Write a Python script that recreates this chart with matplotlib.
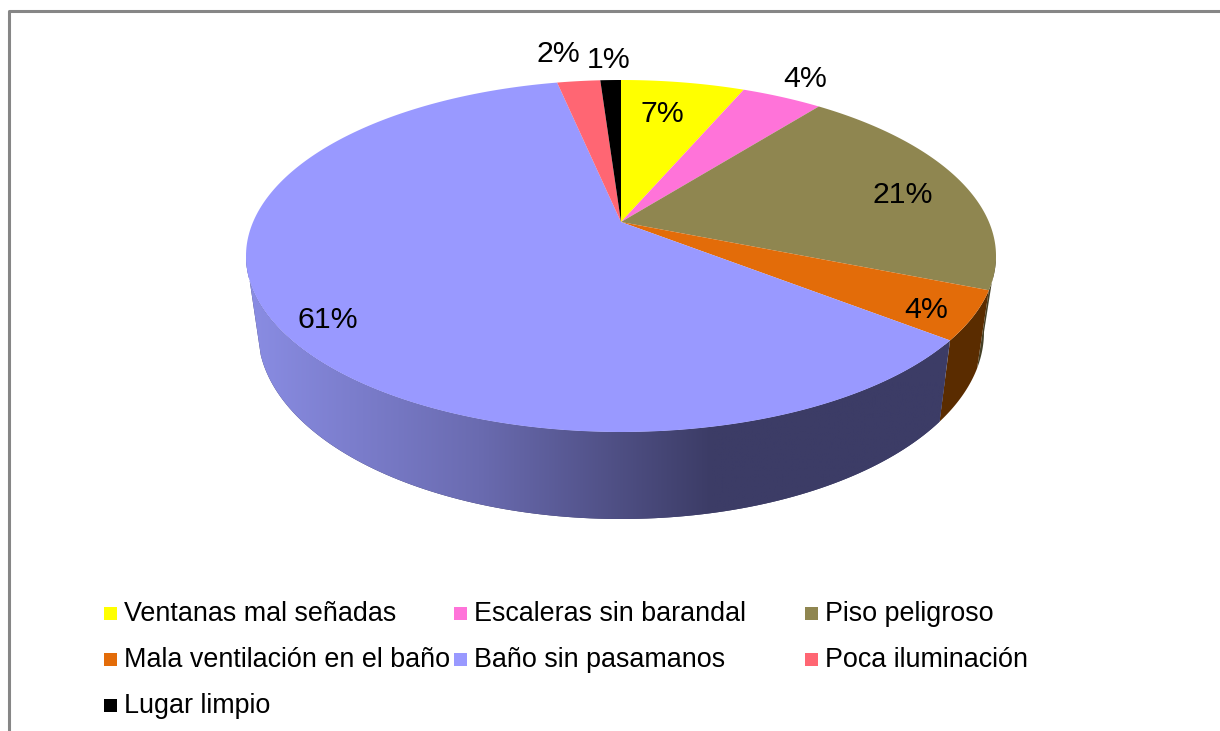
#!/usr/bin/env python3
"""Redraw the 3D style pie chart with its legend."""

import numpy as np
import matplotlib
matplotlib.use('Agg')
import matplotlib.pyplot as plt
from matplotlib.colors import LinearSegmentedColormap
from matplotlib.patches import Polygon, Rectangle

plt.rcParams['font.family'] = ['Liberation Sans', 'DejaVu Sans']

categories = ['Ventanas mal señadas', 'Escaleras sin barandal', 'Piso peligroso',
              'Mala ventilación en el baño', 'Baño sin pasamanos',
              'Poca iluminación', 'Lugar limpio']
values = [6.6, 4.3, 20.6, 4.4, 60.7, 2.3, 1.1]
pct_labels = ['7%', '4%', '21%', '4%', '61%', '2%', '1%']
top_colors = ['#ffff00', '#ff73d9', '#8f8650', '#e36c09', '#9999ff', '#ff6673', '#000000']
side_colors = ['#808000', '#80396c', '#454026', '#5a2c00', '#3c3c66', '#803339', '#000000']
label_pos = [(662, 114), (805, 79), (903, 195), (926, 310), (328, 320), (558, 54), (609, 60)]
legend_pos = [(104, 613), (454, 613), (805, 613), (104, 659), (454, 659), (805, 659), (104, 705)]

# rim geometry, in image pixels
CX = 621
TOP_CY, TOP_A, TOP_B = 256, 375, 176
BOT_CY, BOT_A, BOT_B = 332, 363, 187
APEX = (621, 222)
PERSPECTIVE = 0.8
LEFT_TANGENT = np.radians(263)


def rim_angle(theta):
    # true pie angle to angle on the tilted ellipse
    return 2 * np.arctan2(PERSPECTIVE * np.sin(theta / 2), np.cos(theta / 2))


def top_rim(phi):
    return np.column_stack([CX + TOP_A * np.sin(phi), TOP_CY - TOP_B * np.cos(phi)])


def bottom_rim(phi):
    return np.column_stack([CX + BOT_A * np.sin(phi), BOT_CY - BOT_B * np.cos(phi)])


def main():
    fig = plt.figure(figsize=(12.2, 7.31), dpi=100)
    ax = fig.add_axes([0, 0, 1, 1])
    ax.set_xlim(0, 1220)
    ax.set_ylim(731, 0)
    ax.axis('off')

    # chart frame, cut by the image edges
    ax.plot([9, 9, 1220], [731, 11, 11], color='#868686', lw=2.2, solid_capstyle='butt')

    edges = np.cumsum([0] + values) / sum(values) * 2 * np.pi
    shade = LinearSegmentedColormap.from_list('shade', ['#8a8de4', '#6a6bb0', '#3c3c66', '#3c3c66'])

    # side wall first, only the part that faces the viewer
    for i in range(len(values)):
        lo = max(rim_angle(edges[i]) % (2 * np.pi), np.pi / 2)
        hi = rim_angle(edges[i + 1]) % (2 * np.pi)
        if i == len(values) - 1:
            hi = 2 * np.pi
        hi = min(hi, 1.5 * np.pi)
        if hi <= lo:
            continue
        phi = np.linspace(lo, hi, 120)
        pts = np.vstack([top_rim(phi), bottom_rim(np.minimum(phi, LEFT_TANGENT)[::-1])])
        patch = Polygon(pts, closed=True, facecolor=side_colors[i], edgecolor='none', zorder=2)
        ax.add_patch(patch)
        if i == 4:
            # the big wall gets the left to right gradient
            img = ax.imshow(np.linspace(0, 1, 256)[None, :], cmap=shade, aspect='auto',
                            extent=(246, 945, 520, 250), zorder=2.1)
            img.set_clip_path(patch)

    # top face
    for i in range(len(values)):
        phi = rim_angle(np.linspace(edges[i], edges[i + 1], 240))
        pts = np.vstack([[APEX], top_rim(phi)])
        ax.add_patch(Polygon(pts, closed=True, facecolor=top_colors[i],
                             edgecolor='none', zorder=3))

    ax.set_xlim(0, 1220)
    ax.set_ylim(731, 0)

    for text, (x, y) in zip(pct_labels, label_pos):
        ax.text(x, y, text, ha='center', va='center', fontsize=21.8, color='black', zorder=4)

    for name, color, (x, y) in zip(categories, top_colors, legend_pos):
        ax.add_patch(Rectangle((x, y - 6.5), 13, 13, facecolor=color, edgecolor='none', zorder=3))
        ax.text(x + 20, y + 1, name, ha='left', va='center', fontsize=19.4, color='black', zorder=4)

    fig.savefig('out.png', dpi=100, facecolor='white')
    plt.close(fig)


if __name__ == '__main__':
    main()
